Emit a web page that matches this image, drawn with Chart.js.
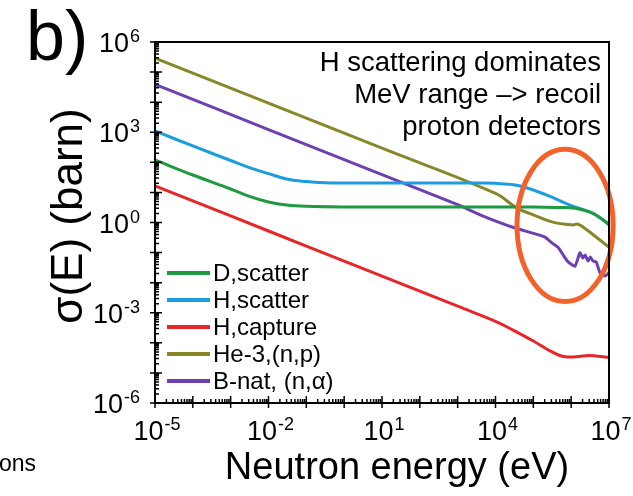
<!DOCTYPE html>
<html>
<head>
<meta charset="utf-8">
<script src="https://cdn.jsdelivr.net/npm/chart.js@4.4.1/dist/chart.umd.min.js"></script>
<style>
  html, body { margin: 0; padding: 0; background: #fff; }
  #wrap { width: 633px; height: 496px; }
</style>
</head>
<body>
<div id="wrap"><canvas id="xs-chart"></canvas></div>
<script>
// neutron energy (eV) and cross section (barn)
const dScatterE = [1e-5, 1e-4, 1e-3, 3e-3, 1e-2, 3e-2, 0.1, 1, 100, 1e4, 1e5, 4e5, 1.26e6, 3.2e6, 5.8e6, 1e7];
const dScatterSigma = [120, 38, 13, 7.5, 4.8, 3.8, 3.45, 3.3, 3.3, 3.3, 3.25, 3.15, 3.0, 2.2, 1.45, 0.85];

const hScatterE = [1e-5, 1e-4, 1e-3, 3e-3, 1e-2, 3e-2, 0.1, 0.3, 1, 100, 4e3, 1e4, 2.5e4, 5.4e4, 2.3e5, 9.3e5, 3.2e6, 5.8e6, 1e7];
const hScatterSigma = [1100, 350, 115, 68, 42, 28, 23, 21, 20.5, 20.5, 20.4, 20, 18.5, 15.5, 8.1, 3.8, 2.2, 1.45, 0.85];

const hCaptureE = [1e-5, 1e-3, 1e-1, 10, 1e3, 1e4, 3e4, 1e5, 2.5e5, 5e5, 8e5, 1.6e6, 2.8e6, 5e6, 1e7];
const hCaptureSigma = [16.5, 1.65, 0.165, 0.0165, 0.00165, 0.00052, 0.00026, 0.000115, 0.000058, 0.000038, 0.000034, 0.000035, 0.000038, 0.000036, 0.000033];

const he3E = [1e-5, 1e-2, 10, 1e4, 3.7e4, 1e5, 3.1e5, 1.12e6, 1.45e6, 2.04e6, 4.3e6, 1e7];
const he3Sigma = [2.9e5, 9300, 295, 9.3, 3.0, 1.8, 1.05, 0.83, 0.89, 0.71, 0.35, 0.15];

const bNatE = [1e-5, 1e-2, 10, 1e3, 3.9e3, 3e4, 2e5, 3.1e5, 4.5e5, 6.3e5, 8.3e5, 1.26e6, 1.7e6, 2.04e6, 2.34e6, 2.8e6, 3.2e6, 3.8e6, 4.6e6, 5.8e6, 7.9e6, 1e7];
const bNatSigma = [3.9e4, 1230, 39, 3.9, 1.8, 0.68, 0.33, 0.21, 0.15, 0.079, 0.049, 0.035, 0.098, 0.066, 0.083, 0.052, 0.071, 0.052, 0.049, 0.021, 0.0166, 0.022];

const seriesLabels = ['D,scatter', 'H,scatter', 'H,capture', 'He-3,(n,p)', 'B-nat, (n,\u03b1)'];
const seriesColors = ['#1f9a40', '#1e9ce0', '#e8262a', '#87872a', '#6d40b0'];

// axis ticks (exponents of 10)
const xLabelExps = [-5, -2, 1, 4, 7];
const yLabelExps = [-6, -3, 0, 3, 6];

// highlighted region: centre (eV, barn) and half-size in decades
const ringCenter = [6.9e5, 0.8];
const ringHalfDecades = [1.27, 2.53];

const FONT = '"Liberation Sans", Arial, sans-serif';

function pts(e, s) {
    return e.map((v, i) => ({ x: v, y: s[i] }));
}

function powLabel(ctx, exp, x, y, align) {
    ctx.font = '27px ' + FONT;
    const w1 = ctx.measureText('10').width;
    ctx.font = '18px ' + FONT;
    const w2 = ctx.measureText(String(exp)).width;
    const total = w1 + w2 + 1;
    let start = align === 'right' ? x - total : x - total / 2;
    ctx.textAlign = 'left';
    ctx.textBaseline = 'alphabetic';
    ctx.font = '27px ' + FONT;
    ctx.fillText('10', start, y);
    ctx.font = '18px ' + FONT;
    ctx.fillText(String(exp), start + w1 + 1, y - 10);
}

const decor = {
    id: 'decor',
    afterDatasetsDraw(chart) {
        const ctx = chart.ctx;
        const xs = chart.scales.x, ys = chart.scales.y;
        const cx = xs.getPixelForValue(ringCenter[0]);
        const cy = ys.getPixelForValue(ringCenter[1]);
        const rx = xs.getPixelForValue(ringCenter[0] * Math.pow(10, ringHalfDecades[0])) - cx;
        const ry = cy - ys.getPixelForValue(ringCenter[1] * Math.pow(10, ringHalfDecades[1]));
        ctx.save();
        ctx.strokeStyle = '#f2622a';
        ctx.lineWidth = 5;
        ctx.beginPath();
        ctx.ellipse(cx, cy, rx, ry, 0, 0, Math.PI * 2);
        ctx.stroke();
        ctx.restore();
    },
    afterDraw(chart) {
        const ctx = chart.ctx;
        const a = chart.chartArea;
        const xs = chart.scales.x, ys = chart.scales.y;
        ctx.save();
        ctx.fillStyle = '#000';
        ctx.strokeStyle = '#000';

        // frame
        ctx.lineWidth = 2;
        ctx.strokeRect(a.left, a.top, a.right - a.left, a.bottom - a.top);

        // ticks
        ctx.lineWidth = 1.5;
        ctx.beginPath();
        for (let e = -5; e <= 7; e++) {
            for (let m = 1; m < 10; m++) {
                if (e === 7 && m > 1) break;
                const px = xs.getPixelForValue(m * Math.pow(10, e));
                const major = m === 1;
                ctx.moveTo(px, a.bottom + (major ? 5 : 0));
                ctx.lineTo(px, a.bottom - (major ? 7 : 4));
            }
        }
        for (let e = -6; e <= 6; e++) {
            for (let m = 1; m < 10; m++) {
                if (e === 6 && m > 1) break;
                const py = ys.getPixelForValue(m * Math.pow(10, e));
                const major = m === 1;
                ctx.moveTo(a.left - (major ? 5 : 0), py);
                ctx.lineTo(a.left + (major ? 7 : 4), py);
            }
        }
        ctx.stroke();

        // tick labels
        xLabelExps.forEach(e => powLabel(ctx, e, xs.getPixelForValue(Math.pow(10, e)) + 2, a.bottom + 37, 'center'));
        yLabelExps.forEach(e => powLabel(ctx, e, a.left - 15, ys.getPixelForValue(Math.pow(10, e)) + 10, 'right'));

        // axis titles
        ctx.textAlign = 'center';
        ctx.textBaseline = 'alphabetic';
        ctx.font = '38px ' + FONT;
        ctx.fillText('Neutron energy (eV)', 397, 479);
        ctx.save();
        ctx.translate(82, 216);
        ctx.rotate(-Math.PI / 2);
        ctx.font = '44px ' + FONT;
        ctx.fillText('\u03c3(E) (barn)', 0, 0);
        ctx.restore();

        // panel letter and clipped neighbour text
        ctx.textAlign = 'left';
        ctx.font = '70px ' + FONT;
        ctx.fillText('b)', 26, 60);
        ctx.font = '23px ' + FONT;
        ctx.fillText('ons', -1, 471);

        // annotation
        ctx.textAlign = 'right';
        ctx.font = '27.5px ' + FONT;
        ctx.fillText('H scattering dominates', a.right - 8, 71);
        ctx.fillText('MeV range \u2013> recoil', a.right - 8, 103);
        ctx.fillText('proton detectors', a.right - 8, 135);

        // legend
        ctx.textAlign = 'left';
        ctx.textBaseline = 'middle';
        ctx.font = '24px ' + FONT;
        chart.data.datasets.forEach((ds, i) => {
            const y = 273 + i * 27;
            ctx.strokeStyle = ds.borderColor;
            ctx.lineWidth = 4;
            ctx.beginPath();
            ctx.moveTo(a.left + 12, y);
            ctx.lineTo(a.left + 55, y);
            ctx.stroke();
            ctx.fillStyle = '#000';
            ctx.fillText(ds.label, a.left + 58, y + 1);
        });
        ctx.restore();
    }
};

const allE = [dScatterE, hScatterE, hCaptureE, he3E, bNatE];
const allSigma = [dScatterSigma, hScatterSigma, hCaptureSigma, he3Sigma, bNatSigma];

const chart = new Chart('xs-chart', {
    type: 'line',
    data: {
        datasets: seriesLabels.map((label, i) => ({
            label: label,
            data: pts(allE[i], allSigma[i]),
            borderColor: seriesColors[i],
            borderWidth: 3,
            pointRadius: 0,
            fill: false,
            tension: i === 4 ? 0.15 : 0.4
        }))
    },
    plugins: [decor],
    options: {
        responsive: true,
        maintainAspectRatio: false,
        animation: false,
        devicePixelRatio: 1,
        layout: { padding: { left: 155, top: 42, right: 24, bottom: 93 } },
        plugins: {
            legend: { display: false },
            tooltip: { enabled: false }
        },
        scales: {
            x: { type: 'logarithmic', min: 1e-5, max: 1e7, display: false },
            y: { type: 'logarithmic', min: 1e-6, max: 1e6, display: false }
        }
    }
});
</script>
</body>
</html>
